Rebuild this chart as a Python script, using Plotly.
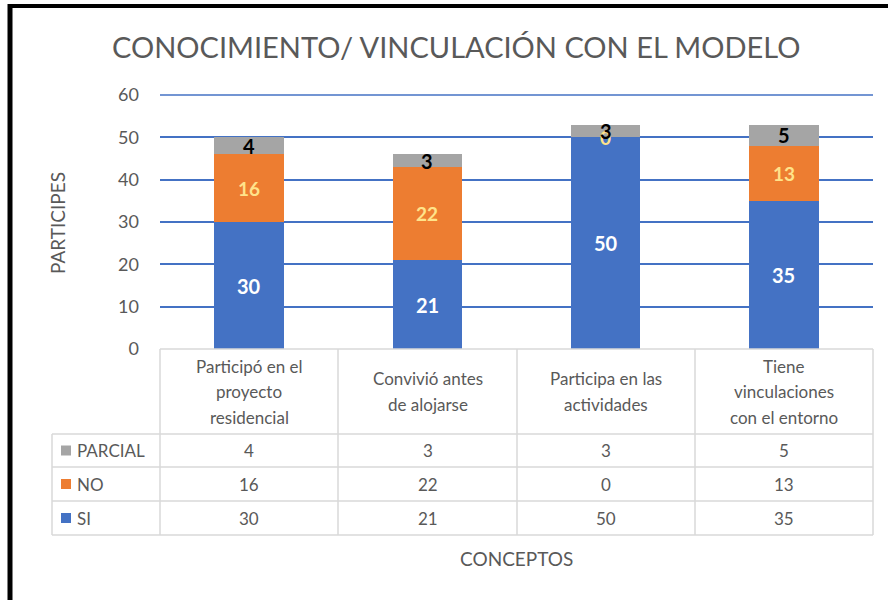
import plotly.graph_objects as go

categories = ["Participó en el<br>proyecto<br>residencial", "Convivió antes<br>de alojarse",
              "Participa en las<br>actividades", "Tiene<br>vinculaciones<br>con el entorno"]
series_names = ["SI", "NO", "PARCIAL"]
si = [30, 21, 50, 35]
no = [16, 22, 0, 13]
parcial = [4, 3, 3, 5]
y_ticks = [0, 10, 20, 30, 40, 50, 60]

colors = {"SI": "#4472C4", "NO": "#ED7D31", "PARCIAL": "#A5A5A5"}
label_colors = {"SI": "white", "NO": "#FFE38A", "PARCIAL": "black"}
values = {"SI": si, "NO": no, "PARCIAL": parcial}

W, H = 888, 600
L, R, T, B = 160, 873, 95, 349
FONT = "Lato, 'Liberation Sans', sans-serif"
GRAY = "#595959"
LINE = "#D9D9D9"
GRID = "#4472C4"


def px(x):
    return (x - L) / (R - L)


def py(y):
    return (B - y) / (B - T)


def ann(x, y, text, size, color=GRAY, xanchor="center", **kw):
    return dict(x=px(x), y=py(y), xref="paper", yref="paper", text=text, showarrow=False,
                xanchor=xanchor, yanchor="middle", font=dict(family=FONT, size=size, color=color), **kw)


fig = go.Figure()
xs = list(range(len(categories)))
for name in series_names:
    fig.add_trace(go.Bar(x=xs, y=values[name], name=name, marker_color=colors[name],
                         marker_line_width=0, showlegend=False, textposition="none"))

annotations = []
for i in xs:
    base = 0
    for name in series_names:
        v = values[name][i]
        annotations.append(dict(x=i, y=base + v / 2, xref="x", yref="y", text=f"<b>{v}</b>",
                                showarrow=False, xanchor="center", yanchor="middle",
                                font=dict(family=FONT, size=20 if name != "NO" else 19,
                                          color=label_colors[name])))
        base += v

annotations.append(ann(456, 47, "CONOCIMIENTO/ VINCULACIÓN CON EL MODELO", 29))
annotations.append(ann(57, 223, "PARTICIPES", 19, textangle=-90))
annotations.append(ann(516, 558, "CONCEPTOS", 19))

shapes = []
# top gridline at the axis maximum (top edge of the plot area)
shapes.append(dict(type="line", xref="paper", yref="paper", x0=0, x1=1, y0=1, y1=1,
                   line=dict(color=GRID, width=1.5), layer="below"))

col_edges = [160, 338, 517, 695, 873]
row_edges = [349, 434, 467, 501, 535]
tbl_left = 52
shapes.append(dict(type="line", xref="paper", yref="paper", x0=px(160), x1=px(873),
                   y0=py(349), y1=py(349), line=dict(color=LINE, width=1.5)))
for yy in row_edges[1:]:
    shapes.append(dict(type="line", xref="paper", yref="paper", x0=px(tbl_left), x1=px(873),
                       y0=py(yy), y1=py(yy), line=dict(color=LINE, width=1.5)))
for xx in col_edges:
    shapes.append(dict(type="line", xref="paper", yref="paper", x0=px(xx), x1=px(xx),
                       y0=py(349), y1=py(535), line=dict(color=LINE, width=1.5)))
shapes.append(dict(type="line", xref="paper", yref="paper", x0=px(tbl_left), x1=px(tbl_left),
                   y0=py(434), y1=py(535), line=dict(color=LINE, width=1.5)))

LH = 25.5
for i, c in enumerate(categories):
    cx = (col_edges[i] + col_edges[i + 1]) / 2
    lines = c.split("<br>")
    y0 = 391.5 - LH * (len(lines) - 1) / 2
    for k, line in enumerate(lines):
        annotations.append(ann(cx, y0 + k * LH, line, 17))

row_order = ["PARCIAL", "NO", "SI"]
for r, name in enumerate(row_order):
    cy = (row_edges[r + 1] + row_edges[r + 2]) / 2
    shapes.append(dict(type="rect", xref="paper", yref="paper", x0=px(61), x1=px(71),
                       y0=py(cy - 5), y1=py(cy + 5), fillcolor=colors[name], line=dict(width=0)))
    annotations.append(ann(75, cy, name, 17, xanchor="left"))
    for i in xs:
        cx = (col_edges[i] + col_edges[i + 1]) / 2
        annotations.append(ann(cx, cy, str(values[name][i]), 17))

shapes.append(dict(type="line", xref="paper", yref="paper", x0=px(10), x1=px(10),
                   y0=py(4), y1=py(600), line=dict(color="black", width=5)))
shapes.append(dict(type="line", xref="paper", yref="paper", x0=px(8), x1=px(888),
                   y0=py(6), y1=py(6), line=dict(color="black", width=4)))

fig.update_layout(
    width=W, height=H,
    margin=dict(l=L, r=W - R, t=T, b=H - B),
    paper_bgcolor="white", plot_bgcolor="white",
    barmode="stack", bargap=0.61,
    xaxis=dict(range=[-0.5, 3.5], showticklabels=False, showgrid=False, zeroline=False,
               showline=False, ticks=""),
    yaxis=dict(range=[0, 60], tickvals=y_ticks, showgrid=True, gridcolor=GRID, gridwidth=1.5,
               zeroline=False, showline=False, ticklabelstandoff=20,
               tickfont=dict(family=FONT, size=18, color=GRAY)),
    annotations=annotations, shapes=shapes,
)

fig.write_html("out.html", config={"displayModeBar": False},
               post_script="document.body.style.margin='0';document.body.style.overflow='hidden';")
